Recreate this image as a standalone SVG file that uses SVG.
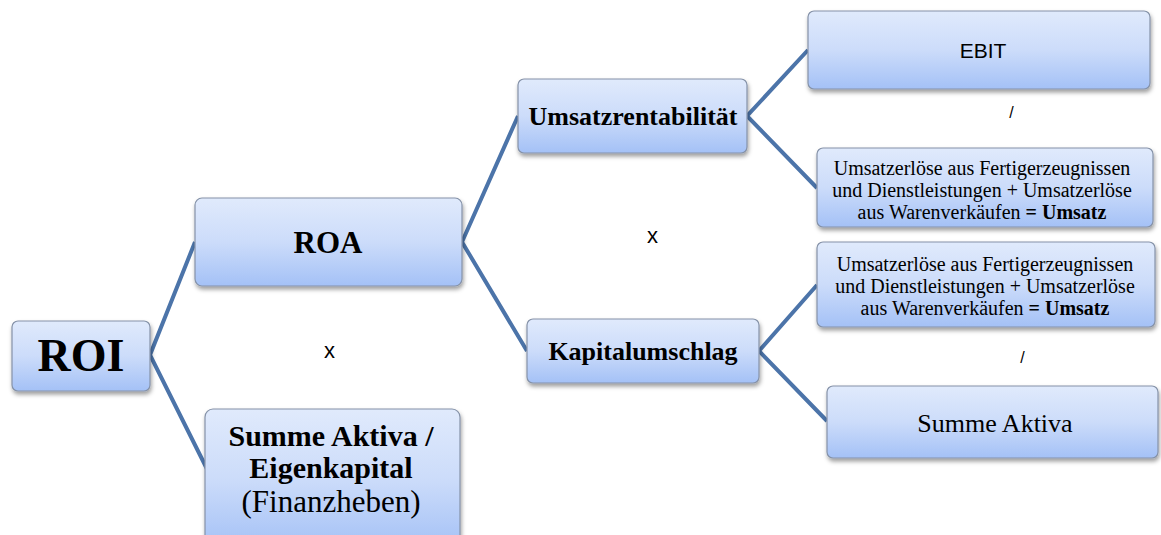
<svg xmlns="http://www.w3.org/2000/svg" width="1161" height="535" viewBox="0 0 1161 535">
  <defs>
    <linearGradient id="boxFill" x1="0" y1="0" x2="0" y2="1">
      <stop offset="0" stop-color="#e0eafc"/>
      <stop offset="0.5" stop-color="#ccdcfa"/>
      <stop offset="1" stop-color="#a4c1f6"/>
    </linearGradient>
    <filter id="shadow" x="-10%" y="-10%" width="120%" height="140%">
      <feDropShadow dx="1" dy="3" stdDeviation="2.2" flood-color="#000" flood-opacity="0.38"/>
    </filter>
  </defs>
  <style>
    .box { fill: url(#boxFill); stroke: #8592a8; stroke-width: 1.2; filter: url(#shadow); }
    .serif { font-family: "Liberation Serif", "Times New Roman", serif; fill: #000; }
    .sans { font-family: "Liberation Sans", Arial, sans-serif; fill: #000; }
    .b { font-weight: bold; }
    .small { font-size: 20px; }
    .link { stroke: #4c74a9; stroke-width: 4; fill: none; stroke-linejoin: miter; }
  </style>

  <rect width="1161" height="535" fill="#fff"/>

  <!-- connectors -->
  <g id="connectors">
    <polyline class="link" points="195,242 150,355 207,469"/>
    <polyline class="link" points="518,116 462,242 527,351"/>
    <polyline class="link" points="808,50 747,116 817,188"/>
    <polyline class="link" points="817,285 759,351 827,421"/>
  </g>

  <!-- operators between branches -->
  <g id="operators">
    <text class="sans" x="329.5" y="358" font-size="22" text-anchor="middle">x</text>
    <text class="sans" x="652.5" y="243" font-size="22" text-anchor="middle">x</text>
    <rect x="996" y="89" width="21" height="10" fill="#fff"/>
    <text class="sans" x="1011.5" y="118" font-size="16" text-anchor="middle">/</text>
    <rect x="1007" y="327" width="21" height="10" fill="#fff"/>
    <text class="sans" x="1022.5" y="363" font-size="16" text-anchor="middle">/</text>
  </g>

  <g id="node-roi">
    <rect class="box" x="12" y="321" width="138" height="70" rx="6"/>
    <text class="serif b" x="81" y="371" font-size="46" text-anchor="middle">ROI</text>
  </g>

  <g id="node-roa">
    <rect class="box" x="195" y="198" width="267" height="88" rx="7"/>
    <text class="serif b" x="328" y="253" font-size="31" text-anchor="middle">ROA</text>
  </g>

  <g id="node-leverage">
    <rect class="box" x="205" y="409" width="255" height="140" rx="8"/>
    <text class="serif b" x="331" y="446" font-size="30" text-anchor="middle">Summe Aktiva /</text>
    <text class="serif b" x="331" y="478" font-size="30" text-anchor="middle">Eigenkapital</text>
    <text class="serif" x="331" y="512" font-size="31" text-anchor="middle">(Finanzheben)</text>
  </g>

  <g id="node-umsatzrentabilitaet">
    <rect class="box" x="518" y="79" width="229" height="74" rx="6"/>
    <text class="serif b" x="633" y="125" font-size="26" text-anchor="middle">Umsatzrentabilität</text>
  </g>

  <g id="node-kapitalumschlag">
    <rect class="box" x="527" y="319" width="232" height="64" rx="6"/>
    <text class="serif b" x="643" y="360" font-size="26" text-anchor="middle">Kapitalumschlag</text>
  </g>

  <g id="node-ebit">
    <rect class="box" x="808" y="11" width="342" height="78" rx="6"/>
    <text class="sans" x="983" y="58" font-size="21" text-anchor="middle">EBIT</text>
  </g>

  <g id="node-umsatz-1">
    <rect class="box" x="817" y="148" width="336" height="79" rx="6"/>
    <text class="serif small" x="982" y="175" text-anchor="middle">Umsatzerlöse aus Fertigerzeugnissen</text>
    <text class="serif small" x="982" y="197" text-anchor="middle">und Dienstleistungen + Umsatzerlöse</text>
    <text class="serif small" x="982" y="219" text-anchor="middle">aus Warenverkäufen <tspan class="b">= Umsatz</tspan></text>
  </g>

  <g id="node-umsatz-2">
    <rect class="box" x="817" y="242" width="338" height="85" rx="6"/>
    <text class="serif small" x="985" y="271" text-anchor="middle">Umsatzerlöse aus Fertigerzeugnissen</text>
    <text class="serif small" x="985" y="293" text-anchor="middle">und Dienstleistungen + Umsatzerlöse</text>
    <text class="serif small" x="985" y="315" text-anchor="middle">aus Warenverkäufen <tspan class="b">= Umsatz</tspan></text>
  </g>

  <g id="node-summe-aktiva">
    <rect class="box" x="827" y="386" width="331" height="72" rx="6"/>
    <text class="serif" x="995" y="432" font-size="26" text-anchor="middle">Summe Aktiva</text>
  </g>
</svg>
